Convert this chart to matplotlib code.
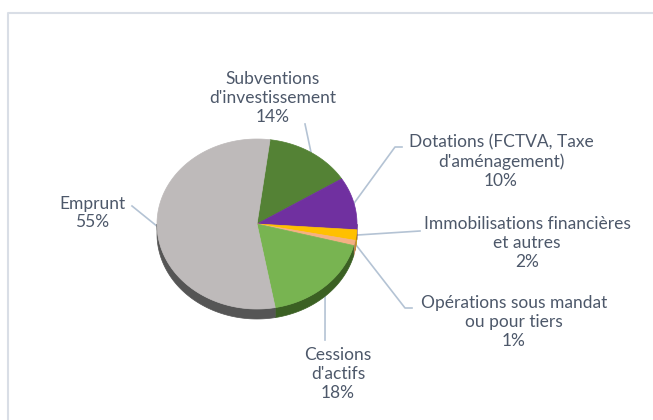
import numpy as np
import matplotlib
matplotlib.use('Agg')
import matplotlib.pyplot as plt
from matplotlib.patches import Polygon
from matplotlib.lines import Line2D

# ---- data ----
labels = ["Subventions\nd'investissement",
          "Dotations (FCTVA, Taxe\nd'aménagement)",
          "Immobilisations financières\net autres",
          "Opérations sous mandat\nou pour tiers",
          "Cessions\nd'actifs",
          "Emprunt"]
values = [14, 10, 2, 1, 18, 55]

# ---- styles / layout ----
colors = ['#548235', '#7030A0', '#FFC000', '#F4B183', '#78B451', '#BEBABA']
side_colors = ['#3A5C24', '#4E2170', '#BF9000', '#C08660', '#3B6023', '#555555']
label_pos = [(273, 98), (501, 162), (527, 243), (514, 322), (338, 374), (92, 213)]
leader_pts = [[(305, 124)],
              [(395, 147), (402, 147)],
              [(420, 231)],
              [(405, 308), (412, 308)],
              [(325, 340)],
              [(132, 206)]]
cx, cy, rx, ry, depth = 257, 224, 100, 85, 10
start = 82.5
text_color = '#4D586A'
line_color = '#B4C3D4'

W, H = 653, 420
fig = plt.figure(figsize=(W / 100, H / 100), dpi=100)
ax = fig.add_axes([0, 0, 1, 1])
ax.set_xlim(0, W)
ax.set_ylim(H, 0)
ax.axis('off')

# frame
ax.add_line(Line2D([7.5, 7.5, W], [H, 12.5, 12.5], color='#D9DEE6', lw=1.5, zorder=1))

def pt(t, dz=0):
    r = np.radians(t)
    return cx + rx * np.cos(r), cy - ry * np.sin(r) + dz

total = float(sum(values))
angles = []
a = start
for v in values:
    b = a - 360 * v / total
    angles.append((a, b))
    a = b

# side walls (front half only)
for (a1, a2), sc in zip(angles, side_colors):
    ts = np.linspace(a1, a2, 200)
    s = np.sin(np.radians(ts))
    ts = ts[s <= 0.0]
    if len(ts) < 2:
        continue
    top = [pt(t) for t in ts]
    bot = [pt(t, depth) for t in ts[::-1]]
    ax.add_patch(Polygon(top + bot, closed=True, facecolor=sc, edgecolor=sc, lw=0.5, zorder=3))

# top faces
for (a1, a2), c in zip(angles, colors):
    ts = np.linspace(a1, a2, 200)
    poly = [(cx, cy)] + [pt(t) for t in ts]
    ax.add_patch(Polygon(poly, closed=True, facecolor=c, edgecolor=c, lw=0.5, zorder=4))

# leader lines and labels
for (a1, a2), lab, v, lp, pts in zip(angles, labels, values, label_pos, leader_pts):
    mid = (a1 + a2) / 2
    anchor = pt(mid)
    xs = [anchor[0]] + [p[0] for p in pts]
    ys = [anchor[1]] + [p[1] for p in pts]
    ax.add_line(Line2D(xs, ys, color=line_color, lw=1.2, zorder=2))
    ax.text(lp[0], lp[1], f"{lab}\n{v}%", ha='center', va='center', fontsize=12.5,
            family='Lato', color=text_color, linespacing=1.22, zorder=5)

fig.savefig('out.png', dpi=100)
